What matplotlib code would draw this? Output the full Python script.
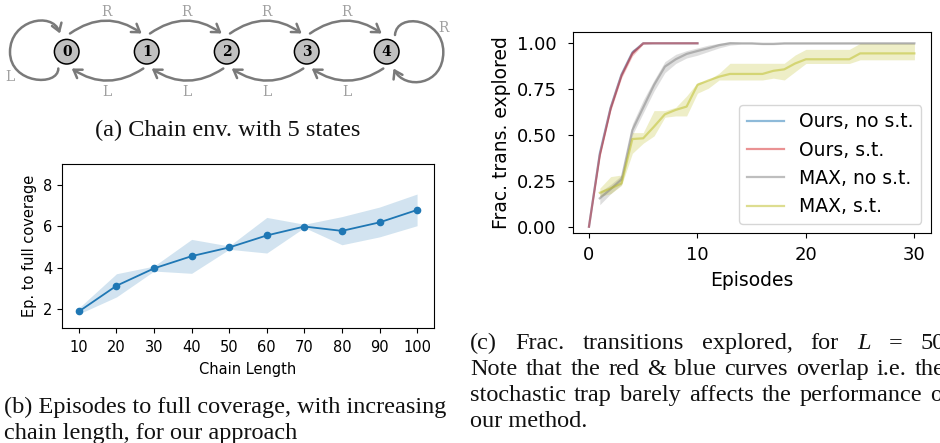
import numpy as np
import matplotlib
matplotlib.use('Agg')
import matplotlib.pyplot as plt
from matplotlib.patches import Circle, FancyArrowPatch
from matplotlib.path import Path

# (a) chain environment
n_states = 5
state_labels = ['0', '1', '2', '3', '4']

# (b) episodes to full coverage vs chain length
chain_len = [10, 20, 30, 40, 50, 60, 70, 80, 90, 100]
cov_mean = [1.88, 3.12, 3.96, 4.55, 4.97, 5.55, 5.98, 5.77, 6.18, 6.78]
cov_lo = [1.76, 2.58, 3.83, 3.72, 4.88, 4.70, 5.93, 5.10, 5.48, 6.02]
cov_hi = [2.05, 3.70, 4.07, 5.36, 5.04, 6.42, 6.09, 6.46, 6.92, 7.55]

# (c) fraction of transitions explored
ep_ours = list(range(0, 11))
ours_nost = [0.0, 0.40, 0.65, 0.83, 0.95, 1.0, 1.0, 1.0, 1.0, 1.0, 1.0]
ours_nost_lo = [0.0, 0.39, 0.64, 0.82, 0.94, 1.0, 1.0, 1.0, 1.0, 1.0, 1.0]
ours_nost_hi = [0.0, 0.41, 0.66, 0.84, 0.96, 1.0, 1.0, 1.0, 1.0, 1.0, 1.0]
ours_st = [0.0, 0.39, 0.645, 0.825, 0.945, 1.0, 1.0, 1.0, 1.0, 1.0, 1.0]
ours_st_lo = [0.0, 0.38, 0.63, 0.81, 0.93, 0.995, 1.0, 1.0, 1.0, 1.0, 1.0]
ours_st_hi = [0.0, 0.40, 0.66, 0.84, 0.965, 1.0, 1.0, 1.0, 1.0, 1.0, 1.0]

ep_max = list(range(1, 31))
max_nost = [0.155, 0.205, 0.258, 0.527, 0.65, 0.773, 0.873, 0.913, 0.942, 0.958,
            0.973, 0.99, 1.0, 1.0, 1.0, 0.997, 0.997, 1.0, 1.0, 1.0,
            1.0, 1.0, 1.0, 1.0, 1.0, 1.0, 1.0, 1.0, 1.0, 1.0]
max_nost_lo = [0.12, 0.18, 0.23, 0.50, 0.62, 0.74, 0.84, 0.89, 0.92, 0.935,
               0.955, 0.975, 0.99, 0.995, 0.995, 0.992, 0.992, 0.995, 0.995, 0.995,
               0.995, 0.995, 0.995, 0.995, 0.995, 0.995, 0.995, 0.995, 0.995, 0.995]
max_nost_hi = [0.19, 0.23, 0.28, 0.56, 0.69, 0.80, 0.90, 0.94, 0.96, 0.975,
               0.99, 1.0, 1.01, 1.005, 1.005, 1.002, 1.002, 1.005, 1.005, 1.005,
               1.005, 1.005, 1.005, 1.005, 1.005, 1.005, 1.005, 1.005, 1.005, 1.005]
max_st = [0.185, 0.209, 0.236, 0.478, 0.482, 0.546, 0.613, 0.637, 0.655, 0.773,
          0.797, 0.818, 0.833, 0.833, 0.833, 0.833, 0.85, 0.858, 0.89, 0.913,
          0.913, 0.913, 0.913, 0.913, 0.945, 0.945, 0.945, 0.945, 0.945, 0.945]
max_st_lo = [0.165, 0.18, 0.225, 0.40, 0.455, 0.495, 0.597, 0.604, 0.604, 0.728,
             0.755, 0.80, 0.80, 0.80, 0.80, 0.80, 0.81, 0.80, 0.845, 0.89,
             0.89, 0.89, 0.89, 0.89, 0.91, 0.91, 0.91, 0.91, 0.91, 0.91]
max_st_hi = [0.21, 0.273, 0.282, 0.513, 0.513, 0.633, 0.633, 0.651, 0.713, 0.786,
             0.80, 0.837, 0.891, 0.891, 0.891, 0.891, 0.891, 0.891, 0.936, 0.967,
             0.967, 0.967, 0.967, 0.967, 1.0, 1.0, 1.0, 1.0, 1.0, 1.0]

W, H = 940, 443
fig = plt.figure(figsize=(W / 100, H / 100), dpi=100)

def box(left, top, right, bottom):
    return [left / W, 1 - bottom / H, (right - left) / W, (bottom - top) / H]

# ---------------- (a) chain diagram ----------------
ax_a = fig.add_axes(box(0, 0, 470, 110))
ax_a.set_xlim(0, 470)
ax_a.set_ylim(110, 0)
ax_a.axis('off')

edge_col = '#7a7a7a'
lab_col = '#a0a0a0'
x0, dx, yc, r = 66.7, 80, 51.7, 12.3
arrow_kw = dict(arrowstyle='->,head_length=0.45,head_width=0.3', mutation_scale=12,
                color=edge_col, lw=1.8, shrinkA=0, shrinkB=0)
for i in range(n_states):
    cx = x0 + dx * i
    ax_a.add_patch(Circle((cx, yc), r, facecolor='#c0c0c0', edgecolor='black', lw=1.1, zorder=3))
    ax_a.text(cx, yc + 0.5, state_labels[i], ha='center', va='center', fontsize=10,
              fontweight='bold', family='DejaVu Serif', zorder=4)
for i in range(n_states - 1):
    cx = x0 + dx * i
    ax_a.add_patch(FancyArrowPatch((cx + 3.3, 33.5), (cx + dx - 5, 33.5),
                                   connectionstyle='arc3,rad=-0.35', **arrow_kw))
    ax_a.add_patch(FancyArrowPatch((cx + dx - 3.4, 68.5), (cx + 5, 68.5),
                                   connectionstyle='arc3,rad=-0.33', **arrow_kw))
    ax_a.text(cx + dx / 2, 11.7, 'R', ha='center', va='center', color=lab_col,
              fontsize=10, family='DejaVu Serif')
    ax_a.text(cx + dx / 2, 91.7, 'L', ha='center', va='center', color=lab_col,
              fontsize=10, family='DejaVu Serif')

C4 = Path.CURVE4
loop0 = Path([(58.3, 68.5), (58.3, 87), (10, 84), (10, 52), (10, 20), (52, 11), (60, 33.5)],
             [Path.MOVETO, C4, C4, C4, C4, C4, C4])
ax_a.add_patch(FancyArrowPatch(path=loop0, **arrow_kw))
x4 = x0 + dx * 4
loop4 = Path([(x4 + 8.3, 35), (x4 + 10, 12), (x4 + 56.6, 18), (x4 + 56.6, 52),
              (x4 + 56.6, 86), (x4 + 18, 90), (x4 + 6.8, 68.5)],
             [Path.MOVETO, C4, C4, C4, C4, C4, C4])
ax_a.add_patch(FancyArrowPatch(path=loop4, **arrow_kw))
ax_a.text(10, 76.7, 'L', ha='center', va='center', color=lab_col, fontsize=10, family='DejaVu Serif')
ax_a.text(x4 + 56.6, 28.3, 'R', ha='center', va='center', color=lab_col, fontsize=10, family='DejaVu Serif')

# ---------------- (b) coverage vs chain length ----------------
ax_b = fig.add_axes(box(62, 164, 434, 328))
ax_b.fill_between(chain_len, cov_lo, cov_hi, color='tab:blue', alpha=0.2, lw=0)
ax_b.plot(chain_len, cov_mean, marker='o', ms=4.5, lw=1.3, color='tab:blue')
ax_b.set_xlim(5.5, 104.5)
ax_b.set_ylim(1.08, 9.0)
ax_b.set_xticks(chain_len)
ax_b.set_yticks([2, 4, 6, 8])
ax_b.tick_params(labelsize=10.5)
ax_b.tick_params(axis='x', pad=5)
ax_b.set_xlabel('Chain Length', fontsize=10.5, labelpad=5)
ax_b.set_ylabel('Ep. to full coverage', fontsize=10.5)

# ---------------- (c) fraction explored ----------------
ax_c = fig.add_axes(box(572.7, 32.3, 930.7, 233.3))
series = [
    (ep_ours, ours_nost, ours_nost_lo, ours_nost_hi, 'tab:blue', 'Ours, no s.t.'),
    (ep_ours, ours_st, ours_st_lo, ours_st_hi, 'tab:red', 'Ours, s.t.'),
    (ep_max, max_nost, max_nost_lo, max_nost_hi, 'tab:gray', 'MAX, no s.t.'),
    (ep_max, max_st, max_st_lo, max_st_hi, 'tab:olive', 'MAX, s.t.'),
]
for xs, m, lo, hi, c, lab in series:
    ax_c.fill_between(xs, lo, hi, color=c, alpha=0.25, lw=0)
    ax_c.plot(xs, m, color=c, alpha=0.5, lw=1.6, label=lab)
ax_c.set_xlim(-1.5, 31.5)
ax_c.set_ylim(-0.036, 1.06)
ax_c.set_xticks([0, 10, 20, 30])
ax_c.set_yticks([0, 0.25, 0.5, 0.75, 1.0])
ax_c.set_yticklabels(['0.00', '0.25', '0.50', '0.75', '1.00'])
ax_c.tick_params(labelsize=13)
ax_c.tick_params(axis='y', pad=8)
ax_c.tick_params(axis='x', pad=6)
ax_c.set_xlabel('Episodes', fontsize=13.5, labelpad=5)
ax_c.set_ylabel('Frac. trans. explored', fontsize=13.5, labelpad=4)
ax_c.legend(loc='lower right', fontsize=13.5)

# ---------------- captions ----------------
cap_kw = dict(family='Liberation Serif', fontsize=17.5, va='baseline', color='#111111')
fig.text(228 / W, 1 - 136.5 / H, '(a) Chain env. with 5 states', ha='center', **cap_kw)
fig.text(4 / W, 1 - 412.7 / H, '(b) Episodes to full coverage, with increasing', ha='left', **cap_kw)
fig.text(4 / W, 1 - 438.5 / H, 'chain length, for our approach', ha='left', **cap_kw)

# caption (c) is justified: words spread between x=470 and the start of the last word
cap_c = [
    (348.7, 920, ['(c)', 'Frac.', 'transitions', 'explored,', 'for', 'L', '=', '50']),
    (374.7, 915, ['Note', 'that', 'the', 'red', '&', 'blue', 'curves', 'overlap', 'i.e.', 'the']),
    (400.7, 930, ['stochastic', 'trap', 'barely', 'affects', 'the', 'performance', 'of']),
    (427.3, None, ['our method.']),
]
renderer = fig.canvas.get_renderer()
for yb, last_x, words in cap_c:
    texts = []
    for w in words:
        st = 'italic' if w == 'L' else 'normal'
        texts.append(fig.text(470 / W, 1 - yb / H, w, ha='left', style=st, **cap_kw))
    if last_x is None:
        continue
    widths = [t.get_window_extent(renderer).width for t in texts]
    gap = (last_x - 470 - sum(widths[:-1])) / (len(words) - 1)
    xw = 470.0
    for t, wd in zip(texts, widths):
        t.set_x(xw / W)
        xw += wd + gap

fig.savefig('out.png', dpi=100)
